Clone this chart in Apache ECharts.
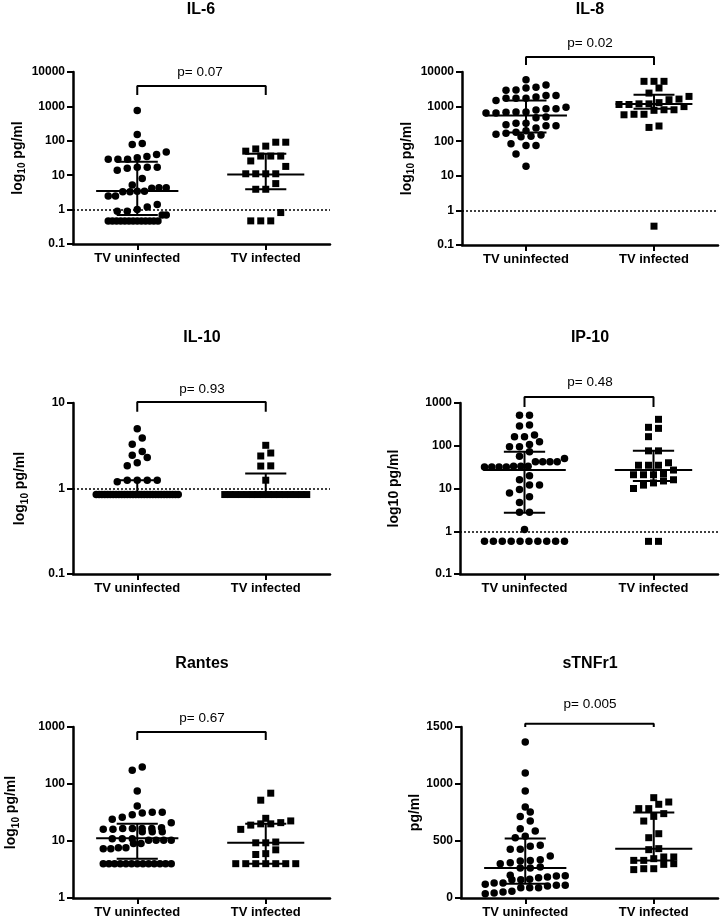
<!DOCTYPE html>
<html>
<head>
<meta charset="utf-8">
<title>Cytokines TV</title>
<script src="https://cdn.jsdelivr.net/npm/echarts@6/dist/echarts.min.js"></script>
<style>
html, body { margin: 0; padding: 0; background: #fff; }
#chart { width: 720px; height: 919px; }
</style>
</head>
<body>
<div id="chart"></div>
<script>
// groups on the x axis
var groups = ['TV uninfected', 'TV infected'];

// values (pg/ml)
var il6Uninf = [755, 152, 78, 83, 40, 32, 29, 29, 29, 35, 47, 17, 16, 14, 17, 17, 8, 5.2, 4.3, 4.3, 3.4, 3.3, 2.5, 2.5, 3.3, 3.4, 4.2, 1.4, 1.2, 1.0, 0.9, 0.9, 0.7, 0.7,
  0.47, 0.47, 0.47, 0.47, 0.47, 0.47, 0.47, 0.47, 0.47, 0.47, 0.47, 0.47, 0.47];
var il6Inf = [91, 70, 91, 50, 58, 36, 36, 36, 26, 18, 11, 11, 11, 11, 5.7, 3.9, 3.9, 0.82, 0.47, 0.47, 0.47];

var il8Uninf = [6000, 4200, 3450, 2950, 3000, 3650, 2100, 2100, 1750, 1750, 1900, 1750, 1500, 960, 870, 690, 700, 650, 700, 650, 800, 870,
  500, 480, 330, 280, 300, 280, 330, 240, 170, 135, 140, 200, 150, 160, 180, 84, 75, 75, 43, 19];
var il8Inf = [5370, 5370, 5370, 3450, 2460, 1970, 1580, 1650, 1200, 1150, 1150, 1200, 1300, 1000, 810, 780, 810, 600, 580, 600, 275, 250, 0.35];

var il10Uninf = [5.0, 3.9, 3.3, 2.7, 2.3, 2.45, 1.84, 2.0, 1.25, 1.25, 1.25, 1.2, 1.25,
  0.85, 0.85, 0.85, 0.85, 0.85, 0.85, 0.85, 0.85, 0.85, 0.85, 0.85, 0.85, 0.85, 0.85, 0.85, 0.85, 0.85,
  0.85, 0.85, 0.85, 0.85, 0.85, 0.85, 0.85, 0.85, 0.85, 0.85, 0.85, 0.85, 0.85];
var il10Inf = [3.2, 2.4, 2.6, 1.83, 1.84, 1.25, 0.85, 0.85, 0.85, 0.85, 0.85, 0.85, 0.85, 0.85,
  0.85, 0.85, 0.85, 0.85, 0.85, 0.85, 0.85, 0.85];

var ip10Uninf = [520, 520, 305, 290, 163, 163, 178, 124, 95, 107, 95, 72, 57, 50, 42, 42, 42, 42, 32, 32, 33, 33, 33, 32, 32,
  20, 16, 12, 9.5, 12, 6.4, 7.9, 4.7, 2.8, 2.8, 1.1, 0.58, 0.58, 0.58, 0.58, 0.58, 0.58, 0.58, 0.58, 0.58, 0.58];
var ip10Inf = [415, 255, 270, 163, 76, 76, 40, 27, 35, 35, 35, 21, 21, 21, 22, 16, 15, 12, 10, 13.5, 0.58, 0.58];

var rantesUninf = [199, 174, 75, 41, 32, 31, 26, 24, 29, 32, 21, 16.5, 16, 14.5, 16, 16.5, 17, 14.5, 14.5, 16.5, 16.5,
  10.3, 10.3, 9, 11, 11, 11, 9, 10.3, 10.3, 7.6, 7.3, 7.6, 7.3, 4, 4, 4, 4, 4, 4, 4, 4, 4, 4, 4, 4, 4];
var rantesInf = [69, 52, 22.5, 20, 20, 25, 19, 21, 16, 9.6, 9.3, 9.3, 7, 6, 5.8, 4, 4, 4, 4, 4, 4, 4];

var tnfUninf = [1368, 1096, 939, 798, 754, 716, 675, 608, 588, 541, 529, 453, 427, 427, 462, 368, 336, 310, 325, 330, 301,
  263, 272, 263, 199, 193, 178, 161, 196, 161, 164, 184, 111, 91, 91, 132, 132, 105, 91, 111, 120, 44, 38, 53, 60];
var tnfInf = [842, 880, 822, 784, 784, 740, 716, 675, 564, 529, 424, 433, 330, 295, 345, 360, 360, 330, 301, 257, 249, 257];

// median and interquartile range per group: [q1, median, q3]
var il6Stats = [[0.7, 3.5, 24.5], [3.9, 10.5, 42]];
var il8Stats = [[178, 550, 1510], [870, 1180, 2190]];
var il10Stats = [[0.85, 0.85, 1.25], [0.85, 0.85, 1.5]];
var ip10Stats = [[2.7, 27, 72], [15, 27, 76]];
var rantesStats = [[4.9, 11.2, 20], [4.0, 9.3, 20]];
var tnfStats = [[126, 263, 523], [330, 433, 749]];

// comparison bracket: [drop end, top] in data units, and p values
var brackets = [[2150, 3900], [16000, 27000], [7.9, 10.3], [805, 1380], [590, 817], [1500, 1528]];
var pValues = ['p= 0.07', 'p= 0.02', 'p= 0.93', 'p= 0.48', 'p= 0.67', 'p= 0.005'];
var panelTitles = ['IL-6', 'IL-8', 'IL-10', 'IP-10', 'Rantes', 'sTNFr1'];

var FONT = '"Liberation Sans", Arial, sans-serif';
var SUB = '{a|log}{s|10}{a| pg/ml}';

var panels = [
  {uninf: il6Uninf, inf: il6Inf, stats: il6Stats, grid: [73, 72, 257, 172], log: true, min: 0.1, max: 10000,
    yName: SUB, nameGap: 43, title: [201, 10], p: [200, 72], ref: true, cap: 29},
  {uninf: il8Uninf, inf: il8Inf, stats: il8Stats, grid: [462, 72, 256, 173], log: true, min: 0.1, max: 10000,
    yName: SUB, nameGap: 44, title: [590, 10], p: [590, 43.5], ref: true, cap: 40},
  {uninf: il10Uninf, inf: il10Inf, stats: il10Stats, grid: [73, 403, 257, 171], log: true, min: 0.1, max: 10,
    yName: SUB, nameGap: 43, title: [202, 338], p: [202, 389], ref: true, cap: 41},
  {uninf: ip10Uninf, inf: ip10Inf, stats: ip10Stats, grid: [460, 403, 258, 171], log: true, min: 0.1, max: 1000,
    yName: '{a|log10 pg/ml}', nameGap: 56, title: [590, 338], p: [590, 382], ref: true, cap: 40},
  {uninf: rantesUninf, inf: rantesInf, stats: rantesStats, grid: [73, 727, 257, 171], log: true, min: 1, max: 1000,
    yName: SUB, nameGap: 52, title: [202, 663.5], p: [202, 718], ref: false, cap: 34},
  {uninf: tnfUninf, inf: tnfInf, stats: tnfStats, grid: [461, 727, 257, 171], log: false, min: 0, max: 1500,
    yName: '{a|pg/ml}', nameGap: 35, title: [590, 663.5], p: [590, 704], ref: false, cap: 40}
];

var ROW_H = 9;      // px, points closer than this share a row
var SPACING = 10;   // px between points in a row
var MED_W = [0.32, 0.3];
var Q_W = 0.16;

// simple column scatter: points of similar height are put side by side
function swarm(values, cat, p) {
  var h = p.grid[3], w = p.grid[2];
  var toPx = p.log
    ? function (v) { return Math.log10(v) * h / (Math.log10(p.max) - Math.log10(p.min)); }
    : function (v) { return v * h / (p.max - p.min); };
  var pxPerX = w / 2;
  var sorted = values.slice().sort(function (a, b) { return a - b; });
  var rows = [], row = null;
  sorted.forEach(function (v) {
    var py = toPx(v);
    if (!row || py - row.py0 > ROW_H) {
      row = {py0: py, vals: []};
      rows.push(row);
    }
    row.vals.push(v);
  });
  var out = [];
  rows.forEach(function (r) {
    var n = r.vals.length, sp = SPACING;
    if ((n - 1) * sp > 2 * p.cap) sp = 2 * p.cap / (n - 1);
    r.vals.forEach(function (v, i) {
      out.push([cat + (i - (n - 1) / 2) * sp / pxPerX, v]);
    });
  });
  return out;
}

function errRender(params, api) {
  var x = api.value(0), q1 = api.value(1), md = api.value(2), q3 = api.value(3);
  var mw = MED_W[Math.round(x)];
  function seg(x1, y1, x2, y2) {
    var a = api.coord([x1, y1]), b = api.coord([x2, y2]);
    return {type: 'line', shape: {x1: a[0], y1: a[1], x2: b[0], y2: b[1]},
      style: {stroke: '#000', lineWidth: 2}};
  }
  return {type: 'group', children: [
    seg(x - mw, md, x + mw, md),
    seg(x - Q_W, q1, x + Q_W, q1),
    seg(x - Q_W, q3, x + Q_W, q3),
    seg(x, q1, x, q3)
  ]};
}

var grids = [], xAxes = [], yAxes = [], series = [], titles = [];

panels.forEach(function (p, i) {
  grids.push({left: p.grid[0], top: p.grid[1], width: p.grid[2], height: p.grid[3]});

  xAxes.push({
    gridIndex: i, type: 'value', min: -0.5, max: 1.5,
    axisLine: {onZero: false, lineStyle: {color: '#000', width: 2.5}},
    axisTick: {customValues: [0, 1], length: 6, lineStyle: {color: '#000', width: 2}},
    axisLabel: {customValues: [0, 1], color: '#000', fontWeight: 'bold', fontSize: 13, fontFamily: FONT, margin: 8,
      formatter: function (v) { return groups[Math.round(v)]; }},
    splitLine: {show: false}
  });

  var y = {
    gridIndex: i, type: p.log ? 'log' : 'value', min: p.min, max: p.max,
    axisLine: {show: true, onZero: false, lineStyle: {color: '#000', width: 2.5}},
    axisTick: {show: true, length: 6, lineStyle: {color: '#000', width: 2}},
    axisLabel: {color: '#000', fontWeight: 'bold', fontSize: 12, fontFamily: FONT, margin: 8,
      formatter: p.log
        ? function (v) { return v < 1 ? v.toFixed(1) : String(Math.round(v)); }
        : function (v) { return String(v); }},
    splitLine: {show: false},
    name: p.yName, nameLocation: 'middle', nameGap: p.nameGap,
    nameTextStyle: {color: '#000', fontFamily: FONT,
      rich: {
        a: {fontSize: 14, fontWeight: 'bold', fontFamily: FONT, color: '#000', lineHeight: 20, verticalAlign: 'middle'},
        s: {fontSize: 10, fontWeight: 'bold', fontFamily: FONT, color: '#000', lineHeight: 10, verticalAlign: 'bottom'}
      }}
  };
  if (p.log) y.logBase = 10; else y.interval = 500;
  yAxes.push(y);

  var circles = {
    type: 'scatter', xAxisIndex: i, yAxisIndex: i, symbol: 'circle', symbolSize: 7.5,
    itemStyle: {color: '#000', opacity: 1}, data: swarm(p.uninf, 0, p), silent: true
  };
  if (p.ref) {
    circles.markLine = {silent: true, symbol: 'none', label: {show: false},
      lineStyle: {type: [2, 2], color: '#000', width: 1.5, opacity: 1}, data: [{yAxis: 1}]};
  }
  series.push(circles);
  series.push({
    type: 'scatter', xAxisIndex: i, yAxisIndex: i, symbol: 'rect', symbolSize: 7,
    itemStyle: {color: '#000', opacity: 1}, data: swarm(p.inf, 1, p), silent: true
  });
  series.push({
    type: 'custom', xAxisIndex: i, yAxisIndex: i, renderItem: errRender, silent: true,
    encode: {x: 0, y: [1, 2, 3]},
    data: p.stats.map(function (s, k) { return [k, s[0], s[1], s[2]]; })
  });
  var b = brackets[i];
  series.push({
    type: 'line', xAxisIndex: i, yAxisIndex: i, symbol: 'none', clip: false, silent: true,
    lineStyle: {color: '#000', width: 2},
    data: [[0, b[0]], [0, b[1]], [1, b[1]], [1, b[0]]]
  });

  titles.push({text: panelTitles[i], left: p.title[0], top: p.title[1], padding: 0,
    textAlign: 'center', textVerticalAlign: 'middle',
    textStyle: {fontFamily: FONT, fontSize: 16, fontWeight: 'bold', color: '#000'}});
  titles.push({text: pValues[i], left: p.p[0], top: p.p[1], padding: 0,
    textAlign: 'center', textVerticalAlign: 'middle',
    textStyle: {fontFamily: FONT, fontSize: 13.5, fontWeight: 'normal', color: '#000'}});
});

var chart = echarts.init(document.getElementById('chart'), null, {renderer: 'canvas'});
chart.setOption({
  backgroundColor: '#fff',
  animation: false,
  title: titles,
  grid: grids,
  xAxis: xAxes,
  yAxis: yAxes,
  series: series
});
</script>
</body>
</html>
